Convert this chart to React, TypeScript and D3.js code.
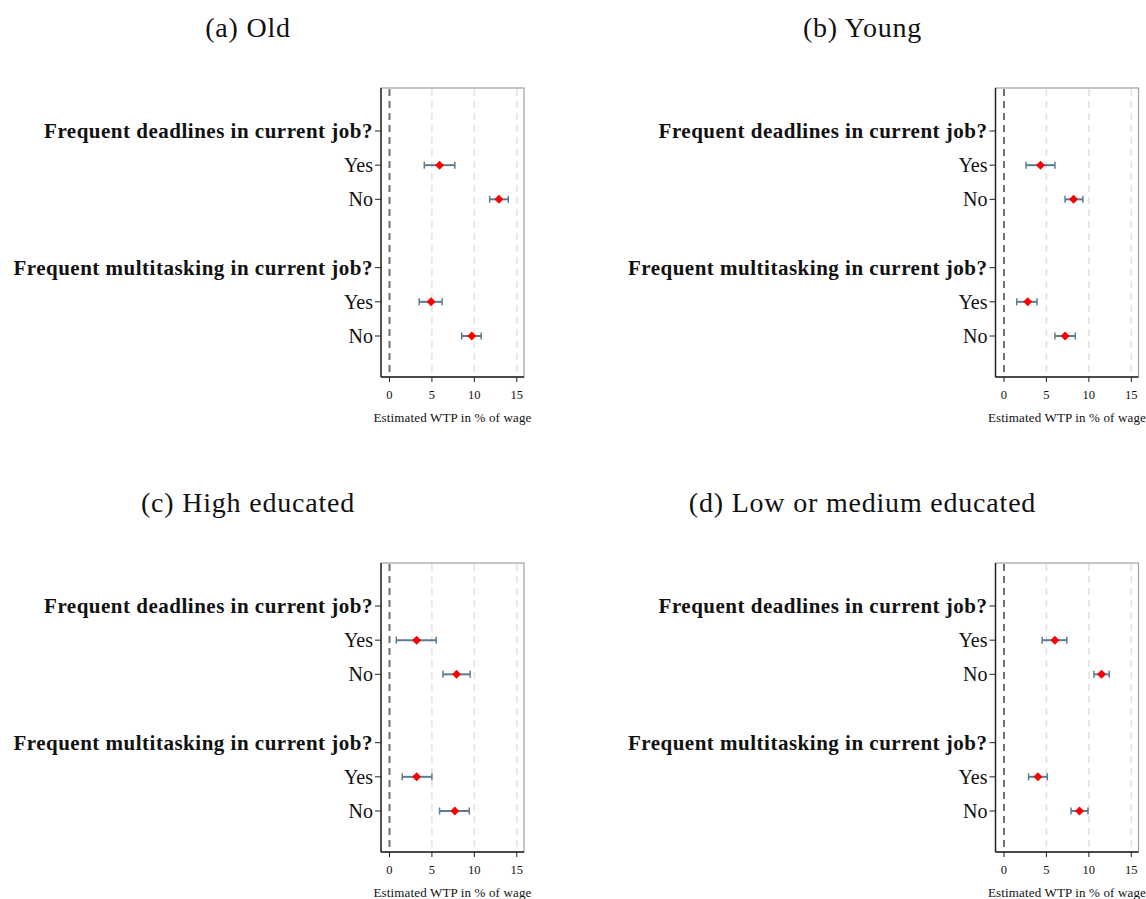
import React from "react";
import * as d3 from "d3";

const rowLabels = [
  "Frequent deadlines in current job?",
  "Yes",
  "No",
  "",
  "Frequent multitasking in current job?",
  "Yes",
  "No",
];
const rowIsHeader = [true, false, false, false, true, false, false];
// rows carrying estimates (index into rowLabels)
const estRows = [1, 2, 5, 6];

const panelTitles = ["(a) Old", "(b) Young", "(c) High educated", "(d) Low or medium educated"];

const oldEst = [5.9, 12.9, 4.9, 9.7];
const oldLo = [4.1, 11.8, 3.5, 8.5];
const oldHi = [7.7, 14.0, 6.2, 10.8];

const youngEst = [4.3, 8.2, 2.8, 7.2];
const youngLo = [2.6, 7.2, 1.5, 6.0];
const youngHi = [6.0, 9.3, 3.9, 8.4];

const highEst = [3.2, 7.9, 3.2, 7.7];
const highLo = [0.8, 6.3, 1.5, 5.9];
const highHi = [5.5, 9.5, 5.0, 9.4];

const lowEst = [6.0, 11.5, 4.0, 8.9];
const lowLo = [4.5, 10.6, 2.9, 7.9];
const lowHi = [7.4, 12.4, 5.1, 9.9];

const xTicks = [0, 5, 10, 15];
const xTitle = "Estimated WTP in % of wage";

const panelData = [
  { est: oldEst, lo: oldLo, hi: oldHi },
  { est: youngEst, lo: youngLo, hi: youngHi },
  { est: highEst, lo: highLo, hi: highHi },
  { est: lowEst, lo: lowLo, hi: lowHi },
];

const FONT = "'Liberation Serif', 'DejaVu Serif', serif";

function Panel({ idx }: { idx: number }) {
  const col = idx % 2;
  const row = Math.floor(idx / 2);
  const dx = col * 614.5;
  const dy = row * 475;
  const left = 381,
    right = 524,
    top = 88,
    bottom = 377;
  const x = d3.scaleLinear().domain([-1, 15.85]).range([left, right]);
  const y = d3.scaleLinear().domain([0, 6]).range([131, 336]);
  const d = panelData[idx];
  const diamond = d3.symbol(d3.symbolSquare, 40)();
  const errColor = "#5d7c93";
  return (
    <g transform={`translate(${dx},${dy})`}>
      <text x={248} y={37} textAnchor="middle" fontFamily={FONT} fontSize={28} letterSpacing={0.8} fill="#111">
        {panelTitles[idx]}
      </text>
      {/* plot region border */}
      <rect x={left} y={top} width={right - left} height={bottom - top} fill="white" stroke="#a0a0a0" strokeWidth={1.2} />
      {/* grid lines */}
      {xTicks
        .filter((t) => t !== 0)
        .map((t) => (
          <line key={t} x1={x(t)} x2={x(t)} y1={top + 1} y2={bottom - 1} stroke="#e2e2e2" strokeWidth={1.5} strokeDasharray="7,5" />
        ))}
      <line x1={x(0)} x2={x(0)} y1={top + 1} y2={bottom - 1} stroke="#707070" strokeWidth={2} strokeDasharray="7,5" />
      {/* axes */}
      <line x1={left} x2={left} y1={top} y2={bottom} stroke="#222" strokeWidth={1.4} />
      <line x1={left} x2={right} y1={bottom} y2={bottom} stroke="#222" strokeWidth={1.4} />
      {xTicks.map((t) => (
        <g key={t}>
          <line x1={x(t)} x2={x(t)} y1={bottom} y2={bottom + 5} stroke="#222" strokeWidth={1} />
          <text x={x(t)} y={bottom + 22} textAnchor="middle" fontFamily={FONT} fontSize={12.5} fill="#111">
            {t}
          </text>
        </g>
      ))}
      <text x={(left + right) / 2} y={bottom + 45} textAnchor="middle" fontFamily={FONT} fontSize={13} letterSpacing={0.15} fill="#111">
        {xTitle}
      </text>
      {rowLabels.map((lab, i) =>
        lab === "" ? null : (
          <g key={i}>
            <line x1={left - 6} x2={left} y1={y(i)} y2={y(i)} stroke="#222" strokeWidth={1} />
            <text
              x={left - 8}
              y={y(i)}
              dy="0.35em"
              textAnchor="end"
              fontFamily={FONT}
              fontSize={rowIsHeader[i] ? 21 : 20}
              letterSpacing={rowIsHeader[i] ? 0.5 : 0}
              fontWeight={rowIsHeader[i] ? "bold" : "normal"}
              fill="#111"
            >
              {lab}
            </text>
          </g>
        )
      )}
      {estRows.map((r, k) => (
        <g key={r}>
          <line x1={x(d.lo[k])} x2={x(d.hi[k])} y1={y(r)} y2={y(r)} stroke={errColor} strokeWidth={2} />
          <line x1={x(d.lo[k])} x2={x(d.lo[k])} y1={y(r) - 3.5} y2={y(r) + 3.5} stroke={errColor} strokeWidth={1.5} />
          <line x1={x(d.hi[k])} x2={x(d.hi[k])} y1={y(r) - 3.5} y2={y(r) + 3.5} stroke={errColor} strokeWidth={1.5} />
          <path d={diamond || ""} transform={`translate(${x(d.est[k])},${y(r)}) rotate(45)`} fill="#ff0000" />
        </g>
      ))}
    </g>
  );
}

export default function App() {
  return (
    <svg width={1146} height={899} style={{ position: "absolute", left: 0, top: 0, background: "white" }}>
      <rect x={0} y={0} width={1146} height={899} fill="white" />
      {[0, 1, 2, 3].map((i) => (
        <Panel key={i} idx={i} />
      ))}
    </svg>
  );
}
